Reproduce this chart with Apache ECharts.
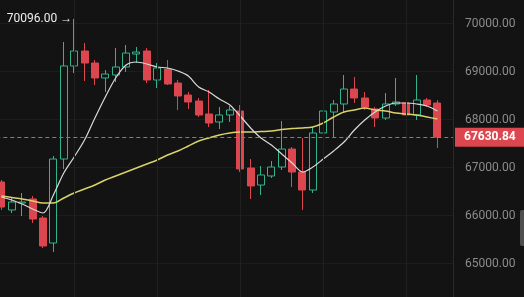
<!DOCTYPE html>
<html>
<head>
<meta charset="utf-8">
<script src="https://cdn.jsdelivr.net/npm/echarts@6/dist/echarts.min.js"></script>
<style>
html,body{margin:0;padding:0;background:#131313;}
#chart{width:524px;height:297px;}
</style>
</head>
<body>
<div id="chart"></div>
<script>
// candle index labels (43 candles + 1 empty slot at right)
const categories = ['1','2','3','4','5','6','7','8','9','10','11','12','13','14','15','16','17','18','19','20','21','22','23','24','25','26','27','28','29','30','31','32','33','34','35','36','37','38','39','40','41','42','43',''];
// [open, close, low, high]
const ohlc = [
  [66698,66177,66115,66740],
  [66115,66281,66052,66365],
  [66260,66281,65990,66469],
  [66344,65927,65844,66406],
  [65948,65365,65323,65990],
  [65427,67177,65240,67240],
  [67177,69115,66969,69615],
  [69115,69427,68969,70096],
  [69427,69177,68802,69594],
  [69177,68865,68719,69240],
  [68865,68948,68573,69031],
  [68927,69094,68781,69490],
  [69094,69385,68990,69552],
  [69365,69406,69177,69510],
  [69427,68823,68760,69490],
  [68823,69073,68656,69177],
  [69052,68740,68719,69240],
  [68760,68490,68198,68823],
  [68510,68365,68219,68573],
  [68385,68094,68052,68448],
  [68115,67927,67844,68615],
  [67948,68094,67802,68260],
  [68094,68198,67948,68281],
  [68177,66969,66906,68302],
  [66990,66615,66344,67177],
  [66635,66844,66427,67031],
  [66823,67010,66781,67135],
  [67010,67385,66948,67969],
  [67385,66906,66594,67427],
  [66906,66531,66115,67615],
  [66531,67719,66469,67844],
  [67719,68177,67469,68990],
  [68156,68323,67635,68406],
  [68323,68635,68135,68927],
  [68635,68448,68344,68885],
  [68448,68260,68198,68573],
  [68219,68031,67844,68260],
  [68031,68323,67990,68552],
  [68323,68365,68281,68865],
  [68344,68094,67844,68406],
  [68094,68406,67990,68927],
  [68406,68302,68260,68448],
  [68344,67630.84,67406,68406]
];
const maFast = [66385,66323,66240,66135,66052,66427,66885,67219,67573,68031,68469,68865,69135,69198,69156,69094,69073,69010,68906,68677,68573,68427,68302,68073,67823,67615,67469,67281,67094,66906,67010,67177,67344,67531,67781,67990,68156,68281,68344,68344,68323,68281,68177];
const maSlow = [66406,66375,66344,66302,66260,66260,66365,66469,66552,66635,66740,66823,66906,66990,67073,67156,67260,67344,67448,67552,67615,67677,67719,67740,67740,67750,67760,67792,67813,67823,67844,67927,68052,68156,68198,68240,68198,68177,68135,68115,68094,68052,68010];
const lastPrice = 67630.84;
const yTicks = {min:64000, max:71000, step:1000};
const gridCats = ['8','16','24','32','40'];

const UP = '#31b38d', DOWN = '#dc464e', BG = '#131313';
const DASH = '#d4604c';
const chart = echarts.init(document.getElementById('chart'), null, {renderer:'canvas'});
chart.setOption({
  backgroundColor: BG,
  animation: false,
  grid: {left:-3.7, right:71, top:-24.5, bottom:-14.5, containLabel:false, outerBoundsMode:'none'},
  xAxis: {
    type:'category', data:categories, boundaryGap:true,
    axisLine:{show:false}, axisTick:{show:false}, axisLabel:{show:false}, splitLine:{show:false}
  },
  yAxis: {
    type:'value', position:'right', min:yTicks.min, max:yTicks.max, interval:yTicks.step,
    axisLine:{show:true, lineStyle:{color:'#2a2a2a'}},
    axisTick:{show:false},
    axisLabel:{color:'#8b8b8b', fontSize:12, fontFamily:'Roboto', margin:12, formatter:v=>v.toFixed(2)},
    splitLine:{show:true, lineStyle:{color:'#1d1d1d', width:1}}
  },
  series: [
    {
      type:'line', data:maSlow, symbol:'none', smooth:0.3, z:3,
      lineStyle:{color:'#d8d26a', width:1.5},
      markLine:{
        silent:true, symbol:'none', label:{show:false},
        lineStyle:{color:'#202020', width:1, type:'solid'},
        data: gridCats.map(c=>({xAxis:c}))
      }
    },
    {
      type:'line', data:maFast, symbol:'none', smooth:0.3, z:3,
      lineStyle:{color:'#d9d9d9', width:1.2}
    },
    {
      type:'line', data:[], z:1,
      markLine:{
        silent:true, symbol:'none',
        lineStyle:{color:DASH, width:1, type:[4,3], opacity:1},
        itemStyle:{color:DASH},
        emphasis:{disabled:true},
        label:{show:true, position:'end', formatter:()=>lastPrice.toFixed(2),
          backgroundColor:DOWN, color:'#ffffff', fontWeight:'bold', fontSize:12, fontFamily:'Roboto',
          padding:[4,9,3,9], distance:2},
        data:[{yAxis:lastPrice, lineStyle:{color:DASH}}]
      }
    },
    {
      type:'candlestick', data:ohlc, barWidth:7.5, z:2,
      itemStyle:{color:BG, color0:DOWN, borderColor:UP, borderColor0:DOWN, borderWidth:1},
      markPoint:{
        silent:true, symbolSize:0,
        label:{show:true, position:'left', distance:2, color:'#eeeeee', fontSize:12, fontFamily:'Roboto',
          formatter:p=>Number(p.value).toFixed(2)+' \u2192'},
        data:[{type:'max', valueDim:'highest'}]
      }
    }
  ],
  graphic:[{type:'rect', shape:{x:520, y:210, width:8, height:36, r:2}, style:{fill:'#4f4f4f'}}]
});
</script>
</body>
</html>
